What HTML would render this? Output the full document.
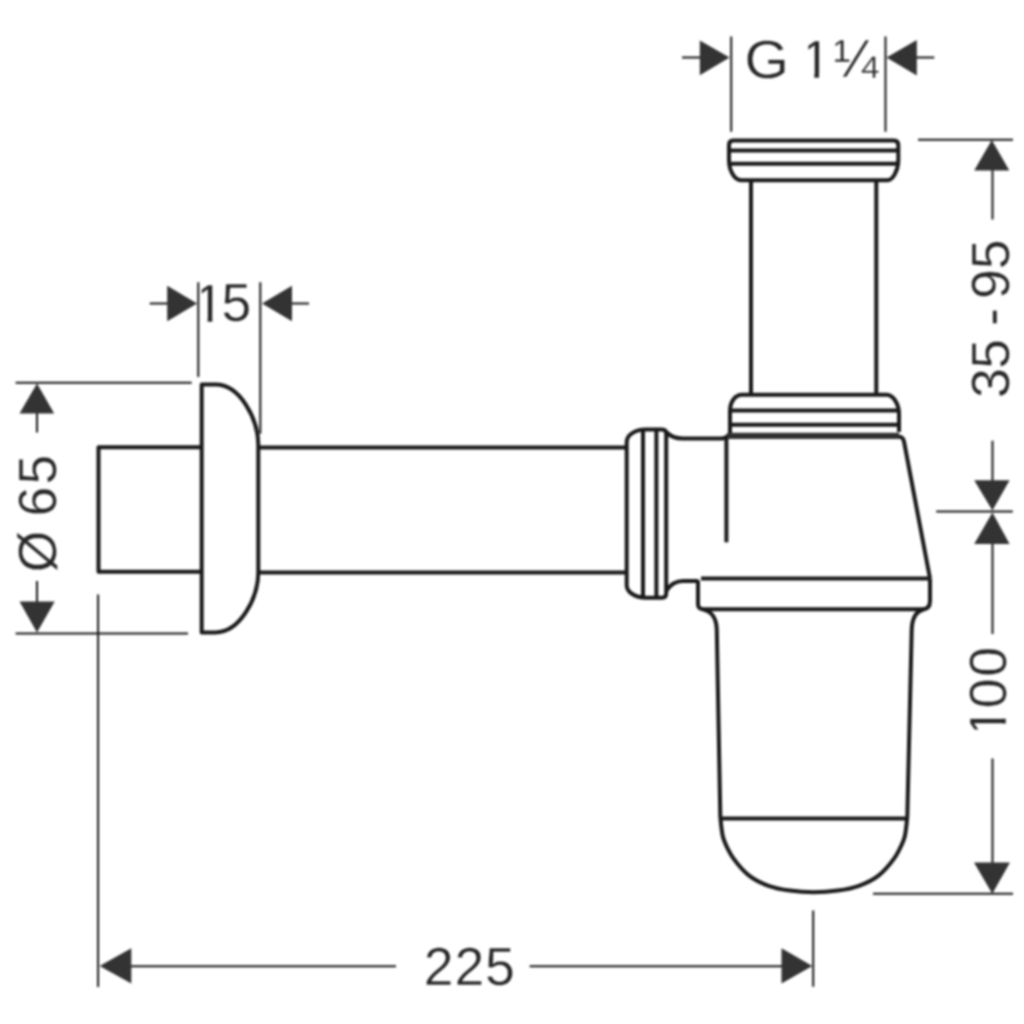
<!DOCTYPE html>
<html>
<head>
<meta charset="utf-8">
<style>
html,body{margin:0;padding:0;background:#fff;width:1024px;height:1024px;overflow:hidden;}
svg{display:block;}
#wrap{width:1024px;height:1024px;filter:blur(1px);}
.m{fill:none;stroke:#191919;stroke-width:4;stroke-linejoin:round;}
.d{fill:none;stroke:#161616;stroke-width:2;}
.a{fill:#333;stroke:none;}
.t{font-family:"Liberation Sans",sans-serif;fill:#262626;stroke:#fff;stroke-width:0.40px;font-size:53.5px;}.t2{stroke-width:0.4px;}
</style>
</head>
<body>
<div id="wrap">
<svg width="1024" height="1024" viewBox="0 0 1024 1024">
<!-- TEXT -->
<defs><clipPath id="c1" clipPathUnits="userSpaceOnUse"><path d="M7.49,-60 L60,-60 L60,-4.81 L18.14,-4.81 L18.14,5 L13.43,5 L13.43,-4.81 L7.49,-4.81 Z"/></clipPath></defs>
<g transform="translate(744.4,77.9) scale(1.07,1.0)"><text class="t">G</text></g>
<g transform="translate(800.9,78.1)"><text class="t" clip-path="url(#c1)">1</text></g>
<g transform="translate(833.4,77.1)"><text class="t t2">¼</text></g>
<g transform="translate(194.2,321.7)"><text class="t" clip-path="url(#c1)">1</text></g>
<g transform="translate(221.4,321.2)"><text class="t">5</text></g>
<g transform="translate(423.8,985.2)"><text class="t">2</text></g>
<g transform="translate(454.6,985.2)"><text class="t">2</text></g>
<g transform="translate(484.9,984.9)"><text class="t">5</text></g>
<g transform="translate(55.7,572.3) rotate(-90)"><text class="t">Ø</text></g>
<g transform="translate(55.7,516.4) rotate(-90)"><text class="t">6</text></g>
<g transform="translate(55.7,484.5) rotate(-90)"><text class="t">5</text></g>
<g transform="translate(1008.7,398.1) rotate(-90)"><text class="t">3</text></g>
<g transform="translate(1008.7,368.8) rotate(-90)"><text class="t">5</text></g>
<g transform="translate(1008.7,325.8) rotate(-90)"><text class="t">-</text></g>
<g transform="translate(1008.7,299.1) rotate(-90)"><text class="t">9</text></g>
<g transform="translate(1008.7,269.2) rotate(-90)"><text class="t">5</text></g>
<g transform="translate(1006.0,736.9) rotate(-90) scale(1.0,0.96)"><text class="t" clip-path="url(#c1)">1</text></g>
<g transform="translate(1006.0,708.2) rotate(-90) scale(1.0,0.96)"><text class="t">0</text></g>
<g transform="translate(1006.0,676.7) rotate(-90) scale(1.0,0.96)"><text class="t">0</text></g>
<!-- /TEXT -->
<!-- ===== main outlines ===== -->
<g class="m">
  <!-- escutcheon -->
  <path d="M201.7,384.6 L215.5,384.6 C240,384.6 258.3,419 258.3,445 L258.3,572 C258.3,598 240,632.4 215.5,632.4 L201.7,632.4 Z"/>
  <!-- wall stub -->
  <path d="M201.7,447.3 L98.5,447.3 L98.5,571.7 L201.7,571.7"/>
  <!-- horizontal pipe -->
  <path d="M258.3,447.5 L626,447.5 M258.3,572.5 L626,572.5"/>
  <!-- ring -->
  <path d="M626.7,586 L626.7,442 A19,12.5 0 0 1 645.7,429.5 L662,429.5 Q666.2,429.5 666.2,433.5 L666.2,593.5 Q666.2,597.7 662,597.7 L645.7,597.7 A19,12.5 0 0 1 626.7,585.2 Z"/>
  <path d="M643,429.5 L643,597.7 M656.4,429.5 L656.4,597.7"/>
  <!-- connection top -->
  <path d="M666.2,432 C670,436 675,438.5 683,438.5 L721,438.5 Q726,438.5 729,434.5"/>
  <!-- connection bottom / base left -->
  <path d="M666.2,591 C670,585 675,581 683,581 L696.5,581 Q698,581 698,582.5 L698,604 Q698,609.3 703.5,609.3 L922,609.3 Q930,609.3 930,601 L930,578.5"/>
  <!-- base top line -->
  <path d="M701,578.5 L929.5,578.5"/>
  <!-- body left -->
  <path d="M726.4,437 L726.4,542.3"/>
  <!-- body right slant -->
  <path d="M898,436.6 Q903,436.6 904,441.5 L930,578.5"/>
  <!-- cup -->
  <path d="M703,609.5 C712,611 716.5,619 716.8,630 L720.3,816.4 C720.5,818.6 721.1,825.5 721.7,829.5 C722.3,833.5 722.2,835.7 724.1,840.5 C726.0,845.3 729.2,852.5 733.4,858.4 C737.6,864.2 743.2,871.0 749.1,875.6 C755.0,880.2 761.8,883.3 768.6,885.8 C775.4,888.3 782.5,889.5 790.0,890.6 C797.5,891.7 805.9,892.3 813.8,892.3 C821.7,892.3 830.1,891.7 837.6,890.6 C845.1,889.5 852.2,888.3 859.0,885.8 C865.8,883.3 872.6,880.2 878.5,875.6 C884.4,871.0 890.0,864.2 894.2,858.4 C898.4,852.5 901.5,845.3 903.5,840.5 C905.4,835.7 905.3,833.5 905.9,829.5 C906.5,825.5 907.1,818.6 907.3,816.4 L911.7,630 C912,619 916,611 924,609.5"/>
  <path d="M720,818.6 L907.6,818.6"/>
  <!-- lower nut -->
  <path d="M730,433 L730,411 C730,402 735,394.8 742,394.8 L886.7,394.8 C893,394.8 899,404 899,413.6 L899,432"/>
  <path d="M730,410.6 L899,410.6 M730,424.7 L899,424.7"/>
  <!-- vertical tube -->
  <path d="M751,180 L751,394.8 M876.3,180 L876.3,394.8"/>
  <!-- top nut -->
  <path d="M741,180.2 L887.5,180.2 C893,180.2 898.3,170 898.3,160 L898.3,145 Q898.3,140.5 894,140.5 L733,140.5 Q729,140.5 729,145 L729,160 C729,170 734,180.2 741,180.2 Z"/>
  <path d="M729,150.4 L898.3,150.4 M729,163.7 L898.3,163.7"/>
</g>
<!-- thick nut bottom line -->
<path d="M727.5,435.9 L899,435.9" fill="none" stroke="#303030" stroke-width="6.2"/>

<!-- ===== dimensions ===== -->
<g class="d">
  <!-- G 1 1/4 -->
  <path d="M682,57.5 L700,57.5 M731.2,36.6 L731.2,131.8 M885.5,36.6 L885.5,131.8 M916,57.5 L934.3,57.5"/>
  <!-- 15 -->
  <path d="M149.7,303.5 L168,303.5 M198.3,282.3 L198.3,377 M260.3,282.3 L260.3,433.8 M291,303.5 L309,303.5"/>
  <!-- dia 65 -->
  <path d="M15.6,382.8 L191.7,382.8 M15.6,633.6 L188,633.6 M37,412 L37,432.5 M37,581 L37,602"/>
  <!-- 225 -->
  <path d="M98.1,594.4 L98.1,987 M130,966.2 L396,966.2 M529.6,966.2 L783,966.2 M813.2,910.4 L813.2,986.8"/>
  <!-- 35-95 / 100 -->
  <path d="M918,139.7 L1013,139.7 M992.5,169 L992.5,219.5 M992.5,440.8 L992.5,481 M936.2,511.6 L1012.8,511.6 M992.5,543 L992.5,634 M992.5,758.5 L992.5,863 M873,893.8 L1013,893.8"/>
</g>
<g class="a">
  <polygon points="699.8,40.5 729.6,57.5 699.8,75.2"/>
  <polygon points="916.8,40 886.5,57.5 916.8,75.5"/>
  <polygon points="167.2,285.8 197.1,303.5 167.2,321.3"/>
  <polygon points="292,285.8 262,303.5 292,321.3"/>
  <polygon points="37,383.5 54.2,413.5 19.5,413.5"/>
  <polygon points="19.5,601.4 54.7,601.4 37,632.6"/>
  <polygon points="99.6,966 131.3,948.3 131.3,983.6"/>
  <polygon points="812.3,966 781.5,948.3 781.5,983.6"/>
  <polygon points="991.8,140 1009.3,170.4 974.2,170.4"/>
  <polygon points="974.2,480.3 1009.6,480.3 992.4,510.5"/>
  <polygon points="992.4,512.5 1009.6,543.9 974.2,543.9"/>
  <polygon points="974,862.5 1010,862.5 992.3,893.7"/>
</g>

</svg>
</div>
</body>
</html>
